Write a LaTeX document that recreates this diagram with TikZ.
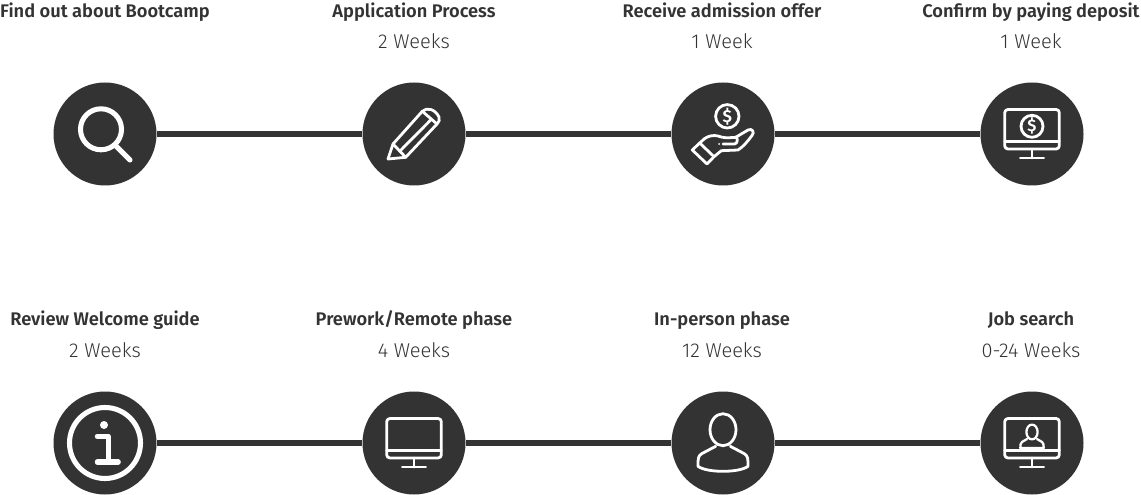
\documentclass[tikz,border=0pt]{standalone}
\usepackage{fontspec}
\newfontfamily\headfont{Fira Sans SemiBold}
\newfontfamily\subfont{Fira Sans Light}
\definecolor{dark}{HTML}{333333}
\tikzset{
  stepdot/.style={circle,fill=dark,inner sep=0pt,minimum size=77.25pt},
  link/.style={draw=dark,line width=5pt},
  icon/.style={draw=white,line width=2.1pt,line cap=round,line join=round},
  heading/.style={anchor=base,text=dark,font=\headfont\fontsize{13.7}{16}\selectfont},
  duration/.style={anchor=base,text=dark,font=\subfont\fontsize{15}{17}\selectfont},
  dollar/.style={text=white,inner sep=0pt,font=\headfont\fontsize{#1}{16}\selectfont},
  pics/lens/.style={code={
    \draw[icon,line width=3.8pt] (-4,-4.7) circle [radius=20.5];
    \draw[icon,line width=3.8pt] (10,11) -- (25,26);
  }},
  pics/pencil/.style={code={
    \draw[icon] (-26,25) -- (-21,10) -- (8.3,-22.7) .. controls (13,-27) and (21,-25) .. (25,-17) .. controls (26,-14) and (25,-12) .. (23,-10) -- (-8.3,23.3) -- cycle;
    \draw[icon] (-21,10) -- (-8.3,23.3);
    \draw[icon] (-14,17) -- (16.7,-14);
    \draw[icon] (8.3,-22.7) -- (23,-10);
  }},
  pics/palm/.style={code={
    \draw[icon] (4.3,-17.7) circle [radius=11.7];
    \node (-sign) at (4.3,-17.7) [dollar=13] {\$};
    \draw[icon] (-30.7,16) -- (-23.3,9) -- (-9,22.7) -- (-16,30) -- cycle;
    \draw[icon] (-23.3,9) -- (-18.3,4.5) .. controls (-14,1.5) and (-9,1) .. (-5,2) .. controls (0,4) and (4,4) .. (12.7,3.3) .. controls (15,3.5) and (15,9.5) .. (11.7,10) -- (0,10);
    \draw[icon] (12.7,3.3) -- (25,-4) .. controls (29,-6) and (32,-2) .. (29,1.5) .. controls (25,7) and (20,13) .. (15,16) -- (-1.7,16.7) -- (-9,22.7);
    \fill[white] (-4,10) circle [radius=1];
  }},
  pics/monitor/.style={code={
    \draw[icon,rounded corners=2.4pt] (-27.3,-24.5) rectangle (27.3,15);
    \draw[icon] (-27.3,7.5) -- (27.3,7.5);
    \draw[icon] (0,15) -- (0,24);
    \draw[icon] (-11.7,24) -- (11.7,24);
  }},
  pics/user/.style={code={
    \draw[icon] (0,-13.3) ellipse [x radius=13,y radius=16];
    \draw[icon] (-7.3,3.3) -- (-21,10.5) .. controls (-25,13) and (-25,15) .. (-25,23.3) .. controls (-16,30) and (16,30) .. (25,23.3) .. controls (25,15) and (25,13) .. (21,10.5) -- (7.3,3.3);
  }},
}
\begin{document}
\begin{tikzpicture}[x=0.75pt,y=-0.75pt]
  \useasboundingbox (0,0) rectangle (1141,495);

  \node (a) at (105,134) [stepdot] {};
  \node (b) at (414,134) [stepdot] {};
  \node (c) at (723,134) [stepdot] {};
  \node (d) at (1032,134) [stepdot] {};
  \node (e) at (105,443) [stepdot] {};
  \node (f) at (414,443) [stepdot] {};
  \node (g) at (723,443) [stepdot] {};
  \node (h) at (1032,443) [stepdot] {};

  \draw[link] (a) -- (b) (b) -- (c) (c) -- (d);
  \draw[link] (e) -- (f) (f) -- (g) (g) -- (h);

  \node (a1) at (105,17.5) [heading] {Find out about Bootcamp};
  \node (b1) at (414,17.5) [heading] {Application Process};
  \node (b2) at (414,48.5) [duration] {2 Weeks};
  \node (c1) at (722,17.5) [heading] {Receive admission offer};
  \node (c2) at (722,48.5) [duration] {1 Week};
  \node (d1) at (1031,17.5) [heading] {Confirm by paying deposit};
  \node (d2) at (1031,48.5) [duration] {1 Week};
  \node (e1) at (105,325.5) [heading] {Review Welcome guide};
  \node (e2) at (105,357) [duration] {2 Weeks};
  \node (f1) at (414,325.5) [heading] {Prework/Remote phase};
  \node (f2) at (414,357) [duration] {4 Weeks};
  \node (g1) at (722,325.5) [heading] {In-person phase};
  \node (g2) at (722,357) [duration] {12 Weeks};
  \node (h1) at (1031,325.5) [heading] {Job search};
  \node (h2) at (1031,357) [duration] {0-24 Weeks};

  \pic at (a) {lens};
  \pic at (b) {pencil};
  \pic (hand) at (c) {palm};
  \pic at (d) {monitor};
  \draw[icon,shift={(d)}] (0,-7.7) circle [radius=11];
  \node (coin) at ([yshift=5.8pt]d.center) [dollar=12.5] {\$};

  % info ring
  \draw[icon,line width=3.8pt,shift={(e)}] (0,0) circle [radius=35.5];
  \fill[white,shift={(e)}] (-1,-18) circle [radius=4];
  \draw[icon,line width=3.8pt,shift={(e)}] (-7.7,-6.7) -- (3.3,-6.7) -- (3.3,19);
  \draw[icon,line width=3.8pt,shift={(e)}] (-7.7,19) -- (13.3,19);

  \pic at (f) {monitor};
  \pic at (g) {user};
  \pic at (h) {monitor};
  \draw[icon,line width=1.7pt,shift={(h)}] (0,-11) ellipse [x radius=5.6,y radius=7.4];
  \draw[icon,line width=1.7pt,shift={(h)}] (-5,-4) -- (-10,-1) .. controls (-11.5,0) and (-11.7,2) .. (-11.7,5) -- (11.7,5) .. controls (11.7,2) and (11.5,0) .. (10,-1) -- (5,-4);
\end{tikzpicture}
\end{document}
